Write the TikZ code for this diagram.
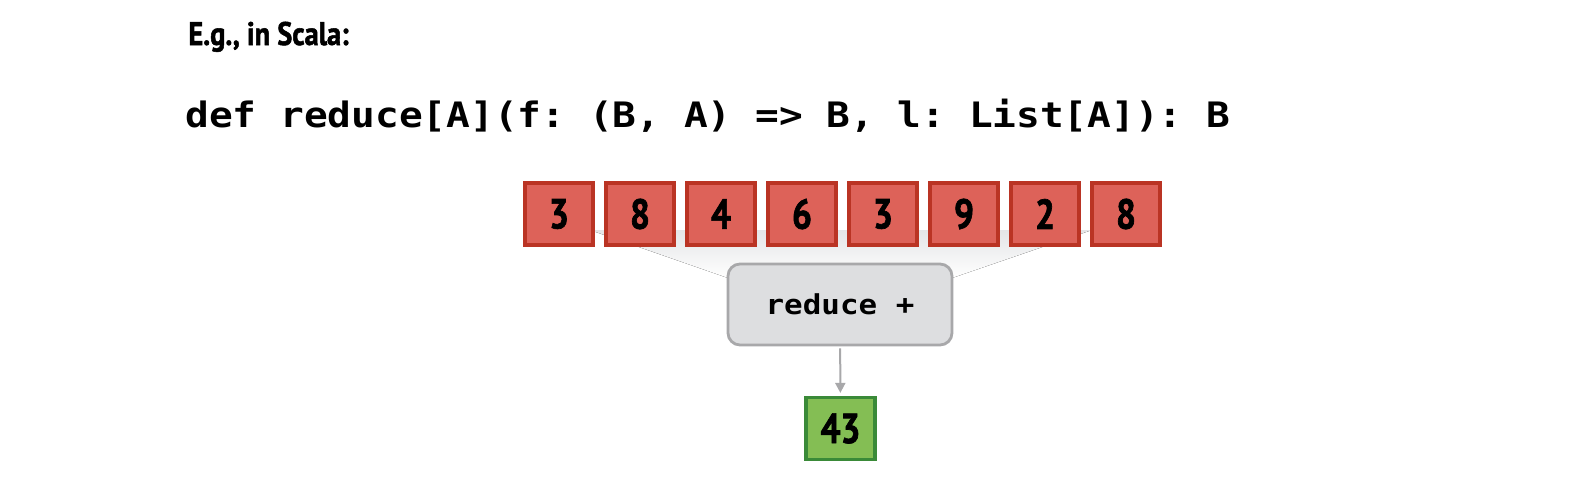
\documentclass[tikz,border=0pt]{standalone}
\usepackage{fontspec}
\usepackage{tikz}
\usetikzlibrary{positioning, arrows.meta}
\newfontfamily\codefont[FakeStretch=1.127]{DejaVu Sans Mono}
\newfontfamily\condfont[FakeStretch=0.84, FakeBold=1.6]{PT Sans Bold}
\newfontfamily\titlefont[FakeStretch=0.87, FakeBold=1.6]{PT Sans Bold}
\definecolor{cellred}{RGB}{221,98,89}
\definecolor{cellredline}{RGB}{186,52,36}
\definecolor{cellgreen}{RGB}{132,190,84}
\definecolor{cellgreenline}{RGB}{58,138,56}
\definecolor{opfill}{RGB}{221,222,224}
\definecolor{opline}{RGB}{168,168,170}
\definecolor{funnel}{RGB}{228,229,231}

\begin{document}
\begin{tikzpicture}[x=0.5pt, y=-0.5pt, node distance=40.5pt, on grid,
		cell/.style={draw=cellredline, fill=cellred, line width=1.6pt, minimum width=34pt, minimum height=31pt, inner sep=0pt, font=\condfont\fontsize{21}{21}\selectfont},
		result/.style={cell, draw=cellgreenline, fill=cellgreen, minimum width=34.5pt},
		op/.style={draw=opline, fill=opfill, line width=1.4pt, rounded corners=6pt, minimum width=112pt, minimum height=40.5pt, inner sep=0pt, font=\codefont\bfseries\fontsize{13.7}{14}\selectfont}
	]
		\useasboundingbox (0,0) rectangle (1596,498);
		
		%Textos:
		\node[anchor=base west, inner sep=0pt, font=\titlefont\fontsize{16.3}{17}\selectfont] (title) at (188,45) {E.g., in Scala:};
		\node[anchor=base west, inner sep=0pt, font=\codefont\bfseries\fontsize{17.5}{18}\selectfont\frenchspacing] (sig) at (185,127) {def reduce[A](f: (B, A) => B, l: List[A]): B};
		
		%Funil atras das celulas:
		\fill[top color=funnel, bottom color=white, draw=none] (590,230) -- (1092,230) -- (952,278) -- (728,278) -- cycle;
		
		%Lista de entrada:
		\node[cell]				(c1) at (559,214)	{3};
		\node[cell]				(c2) [right=of c1]	{8};
		\node[cell]				(c3) [right=of c2]	{4};
		\node[cell]				(c4) [right=of c3]	{6};
		\node[cell]				(c5) [right=of c4]	{3};
		\node[cell]				(c6) [right=of c5]	{9};
		\node[cell]				(c7) [right=of c6]	{2};
		\node[cell]				(c8) [right=of c7]	{8};
		
		%Operacao e resultado:
		\node[op]				(red) at (840,304.5)	{reduce +};
		\node[result]			(out) at (840.5,428.5)	{43};
		\draw[-{Triangle[length=5pt, width=5pt]}, draw=opline, fill=opline, line width=1pt, shorten <=1pt, shorten >=1.5pt] (red) -- (out);
	\end{tikzpicture}
\end{document}
